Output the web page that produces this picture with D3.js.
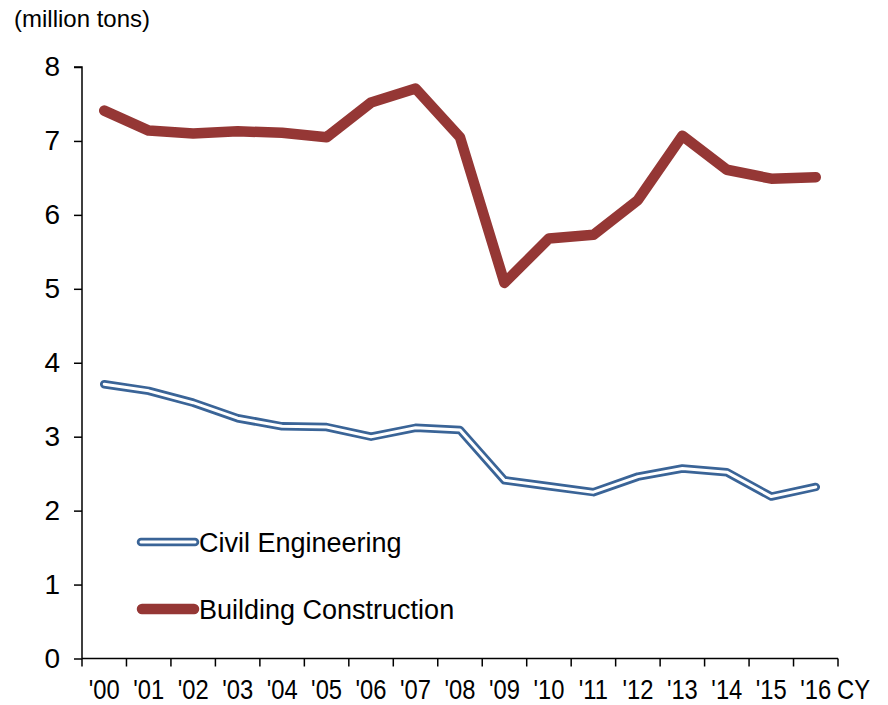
<!DOCTYPE html>
<html>
<head>
<meta charset="utf-8">
<script src="https://cdn.jsdelivr.net/npm/d3@7"></script>
<style>
  body { margin: 0; background: #fff; }
  text { font-family: "Liberation Sans", Arial, sans-serif; fill: #000; }
</style>
</head>
<body>
<svg id="chart" width="888" height="705"></svg>
<script>
// data
const years = ["'00","'01","'02","'03","'04","'05","'06","'07","'08","'09","'10","'11","'12","'13","'14","'15","'16"];
const civilEngineering = [3.71, 3.62, 3.46, 3.25, 3.14, 3.13, 3.00, 3.12, 3.09, 2.41, 2.33, 2.25, 2.46, 2.57, 2.52, 2.19, 2.32];
const buildingConstruction = [7.41, 7.14, 7.10, 7.13, 7.11, 7.05, 7.52, 7.71, 7.05, 5.08, 5.68, 5.73, 6.20, 7.07, 6.61, 6.49, 6.51];
const yTicks = [0, 1, 2, 3, 4, 5, 6, 7, 8];

const svg = d3.select("#chart");
const plotLeft = 82, plotRight = 838, plotTop = 67, plotBottom = 658.5;
const xLabelScale = 0.88; // x labels are drawn narrow in the original

const x = d3.scaleBand().domain(years).range([plotLeft, plotRight]);
const y = d3.scaleLinear().domain([0, 8]).range([plotBottom, plotTop]);

// y axis
const yAxis = svg.append("g")
    .attr("transform", "translate(" + plotLeft + ",0)")
    .call(d3.axisLeft(y).tickValues(yTicks).tickSize(8).tickPadding(14).tickFormat(d3.format("d")));
yAxis.select(".domain").attr("stroke-width", 1.5).attr("d", "M0," + plotBottom + "V" + plotTop + "H-8");
yAxis.selectAll(".tick line").attr("stroke-width", 1.5);
yAxis.selectAll(".tick text").style("font-size", "28px");

// x axis: ticks sit on the band edges
const edges = years.map(d => x(d)).concat([plotRight]);
const xAxis = svg.append("g").attr("transform", "translate(0," + plotBottom + ")");
xAxis.append("line").attr("x1", plotLeft).attr("x2", plotRight).attr("stroke", "#000").attr("stroke-width", 1.5);
xAxis.selectAll("line.tk").data(edges).join("line").attr("class", "tk")
    .attr("x1", d => d).attr("x2", d => d).attr("y1", 0).attr("y2", 8)
    .attr("stroke", "#000").attr("stroke-width", 1.5);
xAxis.selectAll("text.lb").data(years).join("text").attr("class", "lb")
    .attr("transform", d => "translate(" + (x(d) + x.bandwidth() / 2) + ",40) scale(" + xLabelScale + ",1)")
    .attr("text-anchor", "middle").style("font-size", "27px").text(d => d);
xAxis.append("text")
    .attr("transform", "translate(" + (plotRight - 1) + ",40) scale(" + xLabelScale + ",1)")
    .style("font-size", "27px").text("CY");

svg.append("text").attr("x", 14).attr("y", 27).style("font-size", "24px").text("(million tons)");

const line = d3.line().x((d, i) => x(years[i]) + x.bandwidth() / 2).y(d => y(d));

// building construction
svg.append("path").datum(buildingConstruction).attr("d", line)
    .attr("fill", "none").attr("stroke", "#953735").attr("stroke-width", 10.5)
    .attr("stroke-linejoin", "round").attr("stroke-linecap", "round");

// civil engineering, double line
svg.append("path").datum(civilEngineering).attr("d", line)
    .attr("fill", "none").attr("stroke", "#3a6497").attr("stroke-width", 8.5)
    .attr("stroke-linejoin", "round").attr("stroke-linecap", "round");
svg.append("path").datum(civilEngineering).attr("d", line)
    .attr("fill", "none").attr("stroke", "#fff").attr("stroke-width", 3)
    .attr("stroke-linejoin", "round").attr("stroke-linecap", "round");

// legend
const legend = svg.append("g");
legend.append("line").attr("x1", 141).attr("x2", 195).attr("y1", 542).attr("y2", 542)
    .attr("stroke", "#3a6497").attr("stroke-width", 8.5).attr("stroke-linecap", "round");
legend.append("line").attr("x1", 141).attr("x2", 195).attr("y1", 542).attr("y2", 542)
    .attr("stroke", "#fff").attr("stroke-width", 3).attr("stroke-linecap", "round");
legend.append("text").attr("x", 199).attr("y", 552).style("font-size", "27px").text("Civil Engineering");
legend.append("line").attr("x1", 142).attr("x2", 194).attr("y1", 609).attr("y2", 609)
    .attr("stroke", "#953735").attr("stroke-width", 10.5).attr("stroke-linecap", "round");
legend.append("text").attr("x", 199).attr("y", 619).style("font-size", "27px").text("Building Construction");
</script>
</body>
</html>
